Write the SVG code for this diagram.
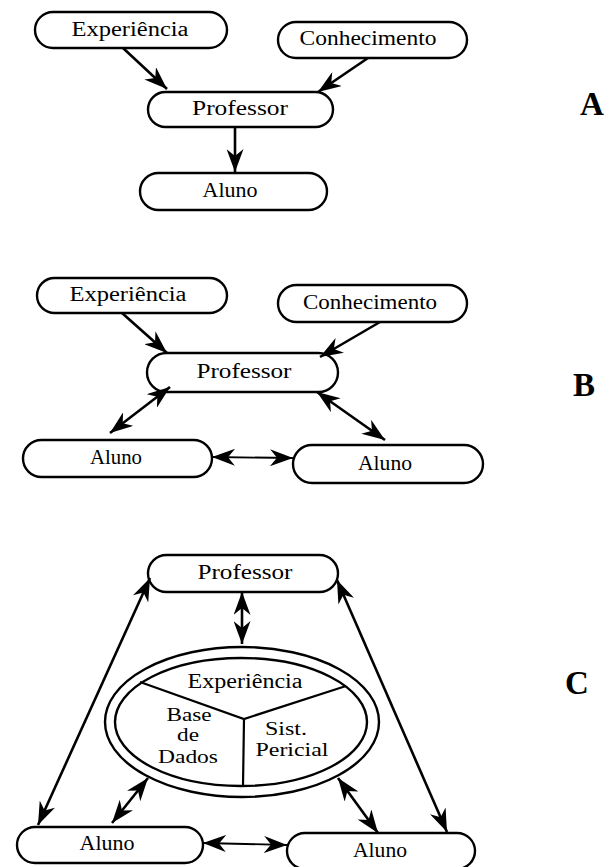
<svg xmlns="http://www.w3.org/2000/svg" width="610" height="867" viewBox="0 0 610 867">
<defs>
<style>
.node{fill:#fff;stroke:#000;stroke-width:2.4}
.t{font-family:"Liberation Serif","Times New Roman",serif;font-size:20px;fill:#000;text-anchor:middle}
.s{font-size:18px}
.lab{font-family:"Liberation Serif","Times New Roman",serif;font-size:33px;font-weight:bold;fill:#000}
.c{stroke:#000;stroke-width:2.6;fill:none}
.thin{stroke-width:1.8}
</style>
<marker id="ah" markerUnits="userSpaceOnUse" markerWidth="23" markerHeight="17" refX="23" refY="8.5" orient="auto-start-reverse" viewBox="0 0 23 17">
<path d="M0,0 L23,8.5 L0,17 L7,8.5 Z" fill="#000"/>
</marker>
</defs>
<rect width="610" height="867" fill="#fff"/>

<!-- Section A -->
<g id="A-experiencia"><rect class="node" x="35" y="12" width="192" height="36" rx="18"/><text class="t" x="130" y="36" textLength="117" lengthAdjust="spacingAndGlyphs">Experiência</text></g>
<g id="A-conhecimento"><rect class="node" x="278" y="22" width="189" height="36" rx="18"/><text class="t" x="368" y="45" textLength="137" lengthAdjust="spacingAndGlyphs">Conhecimento</text></g>
<g id="A-professor"><rect class="node" x="148" y="92" width="185" height="35" rx="17.5"/><text class="t" x="240" y="115" textLength="96" lengthAdjust="spacingAndGlyphs">Professor</text></g>
<g id="A-aluno"><rect class="node" x="140" y="173" width="187" height="37" rx="18.5"/><text class="t" x="230" y="197" textLength="55" lengthAdjust="spacingAndGlyphs">Aluno</text></g>
<g id="label-A"><text class="lab" x="580" y="115">A</text></g>

<!-- Section B -->
<g id="B-experiencia"><rect class="node" x="37" y="278" width="190" height="35" rx="17.5"/><text class="t" x="128" y="301" textLength="117" lengthAdjust="spacingAndGlyphs">Experiência</text></g>
<g id="B-conhecimento"><rect class="node" x="278" y="285" width="189" height="37" rx="18.5"/><text class="t" x="370" y="309" textLength="134" lengthAdjust="spacingAndGlyphs">Conhecimento</text></g>
<g id="B-professor"><rect class="node" x="147" y="353" width="191" height="39" rx="19.5"/><text class="t" x="244" y="378" textLength="95" lengthAdjust="spacingAndGlyphs">Professor</text></g>
<g id="B-aluno-left"><rect class="node" x="23" y="440" width="189" height="37" rx="18.5"/><text class="t" x="116" y="464" textLength="52" lengthAdjust="spacingAndGlyphs">Aluno</text></g>
<g id="B-aluno-right"><rect class="node" x="293" y="445" width="190" height="38" rx="19"/><text class="t" x="385" y="470" textLength="54" lengthAdjust="spacingAndGlyphs">Aluno</text></g>
<g id="label-B"><text class="lab" x="573" y="396">B</text></g>

<!-- Section C -->
<g id="C-professor"><rect class="node" x="148" y="555" width="190" height="37" rx="18.5"/><text class="t" x="245" y="579" textLength="95" lengthAdjust="spacingAndGlyphs">Professor</text></g>
<g id="C-sistema">
<ellipse class="node" cx="242" cy="722" rx="137" ry="75"/>
<ellipse class="node" cx="241" cy="722" rx="126" ry="64"/>
<path d="M140,682 L244,719 L346,686 M244,719 L243,786" stroke="#000" stroke-width="2.2" fill="none"/>
<text class="t" x="245" y="688" textLength="115" lengthAdjust="spacingAndGlyphs">Experiência</text>
<text class="t s" x="189" y="721" textLength="45" lengthAdjust="spacingAndGlyphs">Base</text>
<text class="t s" x="188" y="741" textLength="22" lengthAdjust="spacingAndGlyphs">de</text>
<text class="t s" x="188" y="763" textLength="60" lengthAdjust="spacingAndGlyphs">Dados</text>
<text class="t s" x="286" y="735" textLength="42" lengthAdjust="spacingAndGlyphs">Sist.</text>
<text class="t s" x="292" y="756" textLength="73" lengthAdjust="spacingAndGlyphs">Pericial</text>
</g>
<g id="C-aluno-left"><rect class="node" x="17" y="827" width="186" height="36" rx="18"/><text class="t" x="107" y="850" textLength="55" lengthAdjust="spacingAndGlyphs">Aluno</text></g>
<g id="C-aluno-right"><rect class="node" x="287" y="833" width="188" height="36" rx="18"/><text class="t" x="380" y="857" textLength="54" lengthAdjust="spacingAndGlyphs">Aluno</text></g>
<g id="label-C"><text class="lab" x="565" y="694">C</text></g>

<!-- Connectors -->
<g id="connectors">
<line class="c" x1="123" y1="48" x2="167" y2="89" marker-end="url(#ah)"/>
<line class="c" x1="368" y1="58" x2="318" y2="92" marker-end="url(#ah)"/>
<line class="c" x1="235" y1="127" x2="235" y2="172" marker-end="url(#ah)"/>

<line class="c" x1="122" y1="313" x2="167" y2="353" marker-end="url(#ah)"/>
<line class="c" x1="380" y1="322" x2="320" y2="357" marker-end="url(#ah)"/>
<line class="c" x1="170" y1="387" x2="110" y2="433" marker-start="url(#ah)" marker-end="url(#ah)"/>
<line class="c" x1="317" y1="392" x2="385" y2="440" marker-start="url(#ah)" marker-end="url(#ah)"/>
<line class="c thin" x1="212" y1="457" x2="293" y2="458" marker-start="url(#ah)" marker-end="url(#ah)"/>

<line class="c" x1="242" y1="592" x2="242" y2="644" marker-start="url(#ah)" marker-end="url(#ah)"/>
<line class="c" x1="150" y1="578" x2="38" y2="825" marker-start="url(#ah)" marker-end="url(#ah)"/>
<line class="c" x1="337" y1="580" x2="447" y2="832" marker-start="url(#ah)" marker-end="url(#ah)"/>
<line class="c" x1="148" y1="778" x2="112" y2="823" marker-start="url(#ah)" marker-end="url(#ah)"/>
<line class="c" x1="338" y1="778" x2="378" y2="833" marker-start="url(#ah)" marker-end="url(#ah)"/>
<line class="c thin" x1="203" y1="843" x2="287" y2="845" marker-start="url(#ah)" marker-end="url(#ah)"/>
</g>
</svg>
